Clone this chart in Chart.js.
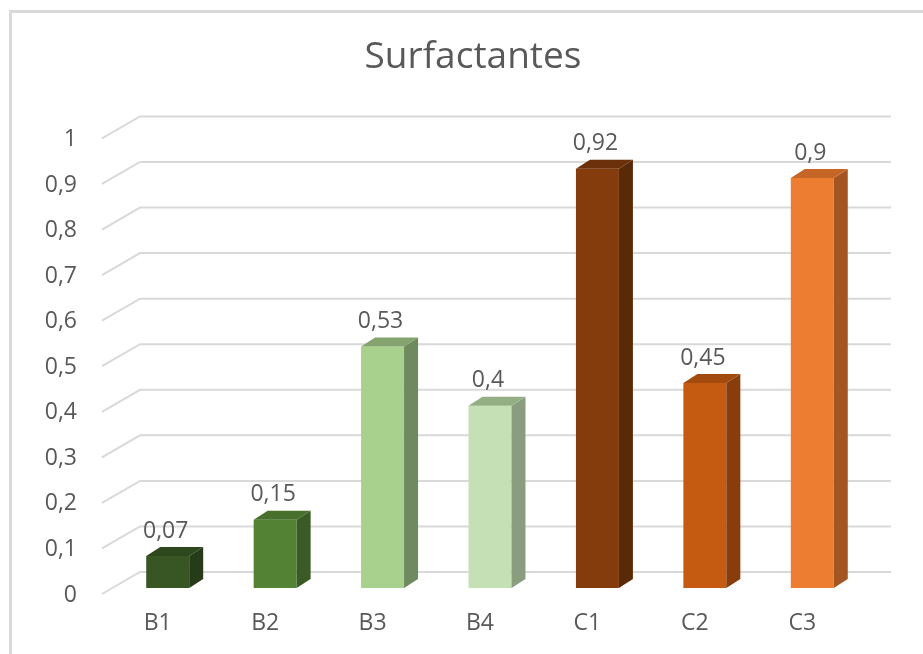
<!DOCTYPE html>
<html>
<head>
<meta charset="utf-8">
<script src="https://cdn.jsdelivr.net/npm/chart.js@4"></script>
<style>
  html, body { margin: 0; padding: 0; background: #ffffff; }
  #wrap { width: 923px; height: 654px; position: relative; }
</style>
</head>
<body>
<div id="wrap"><canvas id="c" width="923" height="654"></canvas></div>
<script>
// ---- data ----
const categories = ['B1', 'B2', 'B3', 'B4', 'C1', 'C2', 'C3'];
const values = [0.07, 0.15, 0.53, 0.4, 0.92, 0.45, 0.9];
const yTickValues = [0, 0.1, 0.2, 0.3, 0.4, 0.5, 0.6, 0.7, 0.8, 0.9, 1];
const chartTitle = 'Surfactantes';

// ---- styles ----
const frontColors = ['#375623', '#548235', '#a9d18e', '#c5e0b4', '#843c0c', '#c55a11', '#ed7d31'];
const topColors   = ['#2e481d', '#46702b', '#84a36e', '#93ae82', '#6c310a', '#a34a0e', '#c56526'];
const sideColors  = ['#263c18', '#3a5b25', '#6f8a5e', '#8a9d7e', '#5a2908', '#883e0c', '#a45622'];
const textColor = '#595959';
const gridColor = '#d9d9d9';
const FONT = "'Open Sans', 'DejaVu Sans', sans-serif";
const DX = 14, DY = -9;

function fmt(v) { return String(Number(v.toFixed(2))).replace('.', ','); }

const framePlugin = {
  id: 'frame',
  afterLayout(chart) {
    // centre the title over the framed area rather than the whole canvas
    if (chart.titleBlock) { chart.titleBlock.left = 80; chart.titleBlock.right = 866; }
  },
  beforeDraw(chart) {
    const ctx = chart.ctx;
    ctx.save();
    ctx.strokeStyle = '#d9d9d9';
    ctx.lineWidth = 3;
    ctx.beginPath();
    ctx.moveTo(10.5, 654);
    ctx.lineTo(10.5, 11.5);
    ctx.lineTo(923, 11.5);
    ctx.stroke();
    ctx.restore();
  }
};

const gridPlugin = {
  id: 'grid3d',
  beforeDatasetsDraw(chart) {
    const ctx = chart.ctx;
    const ys = chart.scales.y;
    ctx.save();
    ctx.strokeStyle = gridColor;
    ctx.lineWidth = 2;
    yTickValues.forEach(v => {
      const py = ys.getPixelForValue(v);
      ctx.beginPath();
      ctx.moveTo(102, py + 6);
      ctx.lineTo(140, py - 16);
      ctx.lineTo(891, py - 16);
      ctx.stroke();
    });
    ctx.restore();
  }
};

const boxPlugin = {
  id: 'box3d',
  afterDatasetsDraw(chart) {
    const ctx = chart.ctx;
    const meta = chart.getDatasetMeta(0);
    ctx.save();
    meta.data.forEach((bar, i) => {
      const p = bar.getProps(['x', 'y', 'base', 'width'], true);
      const l = p.x - p.width / 2, r = p.x + p.width / 2;
      const t = p.y, b = p.base;
      // side face
      ctx.fillStyle = sideColors[i];
      ctx.beginPath();
      ctx.moveTo(r, t);
      ctx.lineTo(r + DX, t + DY);
      ctx.lineTo(r + DX, b + DY);
      ctx.lineTo(r, b);
      ctx.closePath();
      ctx.fill();
      // top face
      ctx.fillStyle = topColors[i];
      ctx.beginPath();
      ctx.moveTo(l, t);
      ctx.lineTo(r, t);
      ctx.lineTo(r + DX, t + DY);
      ctx.lineTo(l + DX, t + DY);
      ctx.closePath();
      ctx.fill();
      // value label
      ctx.fillStyle = textColor;
      ctx.font = '23px ' + FONT;
      ctx.textAlign = 'center';
      ctx.textBaseline = 'middle';
      ctx.fillText(fmt(values[i]), p.x - 2, t - 25);
    });
    ctx.restore();
  }
};

new Chart(document.getElementById('c'), {
  type: 'bar',
  data: {
    labels: categories,
    datasets: [{
      data: values,
      backgroundColor: frontColors,
      borderWidth: 0,
      barPercentage: 0.4,
      categoryPercentage: 1.0
    }]
  },
  options: {
    responsive: false,
    animation: false,
    events: [],
    layout: { padding: { top: 10, left: 0, right: 57, bottom: 0 } },
    plugins: {
      legend: { display: false },
      tooltip: { enabled: false },
      title: {
        display: true,
        text: chartTitle,
        color: textColor,
        font: { family: FONT, size: 37, weight: 'normal', lineHeight: 1.2 },
        padding: { top: 25, bottom: 53 }
      }
    },
    scales: {
      x: {
        grid: { display: false, drawTicks: false },
        border: { display: false },
        ticks: {
          color: textColor,
          font: { family: FONT, size: 23 },
          padding: 22,
          labelOffset: -10
        },
        afterFit(s) { s.height = 66; }
      },
      y: {
        min: 0,
        max: 1,
        grid: { display: false, drawTicks: false },
        border: { display: false },
        afterBuildTicks(s) { s.ticks = yTickValues.map(v => ({ value: v })); },
        ticks: {
          color: textColor,
          font: { family: FONT, size: 23 },
          padding: 37,
          labelOffset: 7,
          callback: v => fmt(v)
        },
        afterFit(s) { s.width = 114; }
      }
    }
  },
  plugins: [framePlugin, gridPlugin, boxPlugin]
});
</script>
</body>
</html>
